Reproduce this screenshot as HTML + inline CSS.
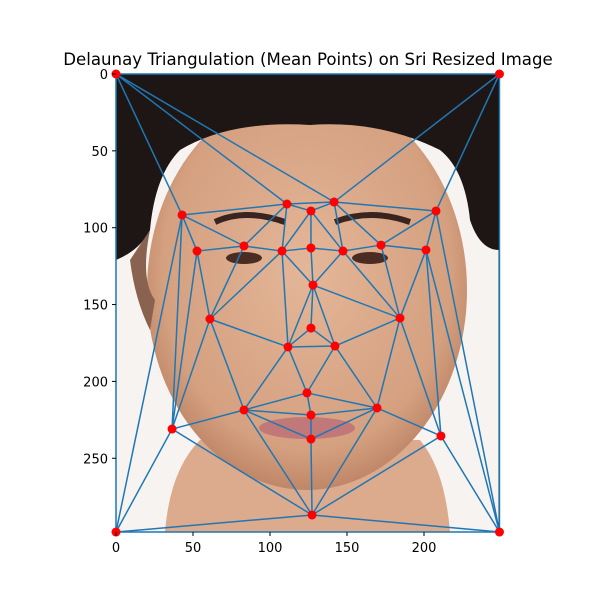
<!DOCTYPE html>
<html><head><meta charset="utf-8"><style>
html,body{margin:0;padding:0;background:#fff;}
svg{display:block;font-family:"DejaVu Sans","Liberation Sans",sans-serif;}
</style></head><body>
<svg id="chart" width="600" height="600" viewBox="0 0 600 600">
<defs>
<clipPath id="imgclip"><rect x="116" y="74" width="383" height="458"/></clipPath>
<radialGradient id="skin" cx="0.5" cy="0.45" r="0.6"><stop offset="0" stop-color="#e4b698"/><stop offset="0.75" stop-color="#d4a080"/><stop offset="1" stop-color="#b57a5c"/></radialGradient>
</defs>
<text x="308" y="65" text-anchor="middle" font-size="16.6">Delaunay Triangulation (Mean Points) on Sri Resized Image</text>
<g clip-path="url(#imgclip)">
<rect x="116" y="74" width="383" height="458" fill="#f6f3f1"/>
<path d="M165 532 Q170 470 200 440 H420 Q445 470 450 532 Z" fill="#dcaa8c"/>
<ellipse cx="307" cy="290" rx="160" ry="200" fill="url(#skin)"/>
<path d="M116 74 H499 V250 Q480 250 470 220 Q465 170 440 150 Q380 120 310 125 Q230 120 180 150 Q155 175 150 230 Q140 250 116 260 Z" fill="#1e1614"/>
<path d="M150 230 Q140 280 155 300 L150 330 Q135 300 130 260 Z" fill="#8a6250"/>
<ellipse cx="244" cy="258" rx="18" ry="6" fill="#4a2c22"/>
<ellipse cx="370" cy="258" rx="18" ry="6" fill="#4a2c22"/>
<path d="M215 222 Q245 208 285 222" stroke="#3a2420" stroke-width="6" fill="none"/>
<path d="M335 222 Q370 208 410 222" stroke="#3a2420" stroke-width="6" fill="none"/>
<ellipse cx="307" cy="428" rx="48" ry="11" fill="#c07878"/>
</g>
<rect x="116" y="74" width="383" height="458" fill="none" stroke="#000" stroke-width="1"/>
<g id="edges"></g>
<g id="pts"></g>
<g id="axes"></g>
</svg>
<script>
const xs = [0,249,0,249,42.9,111,126.6,141.6,207.8,52.6,83.1,107.8,126.6,147.4,172.1,201.3,127.9,61,184.4,126.6,111.7,142.2,124,83.1,126.6,169.5,36.4,211,126.6,127.3];
const ys = [0,0,298,298,91.7,84.6,89.1,83.3,89.1,115.2,111.9,115.2,113.2,115.2,111.3,114.5,137.3,159.4,158.8,165.3,177.6,177,207.5,218.6,221.9,217.3,231,235.5,237.5,286.9];
const xTicks = [0,50,100,150,200];
const yTicks = [0,50,100,150,200,250];
const NS='http://www.w3.org/2000/svg';
const X0=116,XS=1.54,Y0=74,YS=1.537;
function sx(v){return X0+v*XS;}
function sy(v){return Y0+v*YS;}
function mk(t,a){const e=document.createElementNS(NS,t);for(const k in a)e.setAttribute(k,a[k]);return e;}
const n=xs.length,tris=[];
for(let i=0;i<n;i++)for(let j=i+1;j<n;j++)for(let k=j+1;k<n;k++){
 const ax=xs[i],ay=ys[i],bx=xs[j],by=ys[j],cx=xs[k],cy=ys[k];
 const d=2*(ax*(by-cy)+bx*(cy-ay)+cx*(ay-by));
 if(Math.abs(d)<1e-9)continue;
 const ux=((ax*ax+ay*ay)*(by-cy)+(bx*bx+by*by)*(cy-ay)+(cx*cx+cy*cy)*(ay-by))/d;
 const uy=((ax*ax+ay*ay)*(cx-bx)+(bx*bx+by*by)*(ax-cx)+(cx*cx+cy*cy)*(bx-ax))/d;
 const r2=(ax-ux)**2+(ay-uy)**2;let ok=true;
 for(let m=0;m<n&&ok;m++){if(m===i||m===j||m===k)continue;if((xs[m]-ux)**2+(ys[m]-uy)**2<r2-1e-6)ok=false;}
 if(ok)tris.push([i,j,k]);
}
const eg=document.getElementById('edges');const seen={};
tris.forEach(t=>{[[t[0],t[1]],[t[1],t[2]],[t[0],t[2]]].forEach(([a,b])=>{
 const key=a+'-'+b;if(seen[key])return;seen[key]=1;
 const l=mk('line',{x1:sx(xs[a]),y1:sy(ys[a]),x2:sx(xs[b]),y2:sy(ys[b]),stroke:'#1f77b4','stroke-width':1.5});
 
 
 eg.appendChild(l);});});
const pg=document.getElementById('pts');
for(let i=0;i<n;i++){
 const c=mk('circle',{cx:sx(xs[i]),cy:sy(ys[i]),r:4.5,fill:'#ff0000'});
 
 
 pg.appendChild(c);
}
const ag=document.getElementById('axes');
xTicks.forEach(v=>{
 const t=mk('line',{x1:sx(v),y1:532,x2:sx(v),y2:536,stroke:'#000'});
 
 
 ag.appendChild(t);
 const tx=mk('text',{x:sx(v),y:552,'text-anchor':'middle','font-size':13});tx.textContent=v;
 
 
 ag.appendChild(tx);
});
yTicks.forEach(v=>{
 const t=mk('line',{x1:112,y1:sy(v),x2:116,y2:sy(v),stroke:'#000'});
 
 
 ag.appendChild(t);
 const tx=mk('text',{x:108,y:sy(v)+5,'text-anchor':'end','font-size':13});tx.textContent=v;
 
 
 ag.appendChild(tx);
});
</script>
</body></html>
